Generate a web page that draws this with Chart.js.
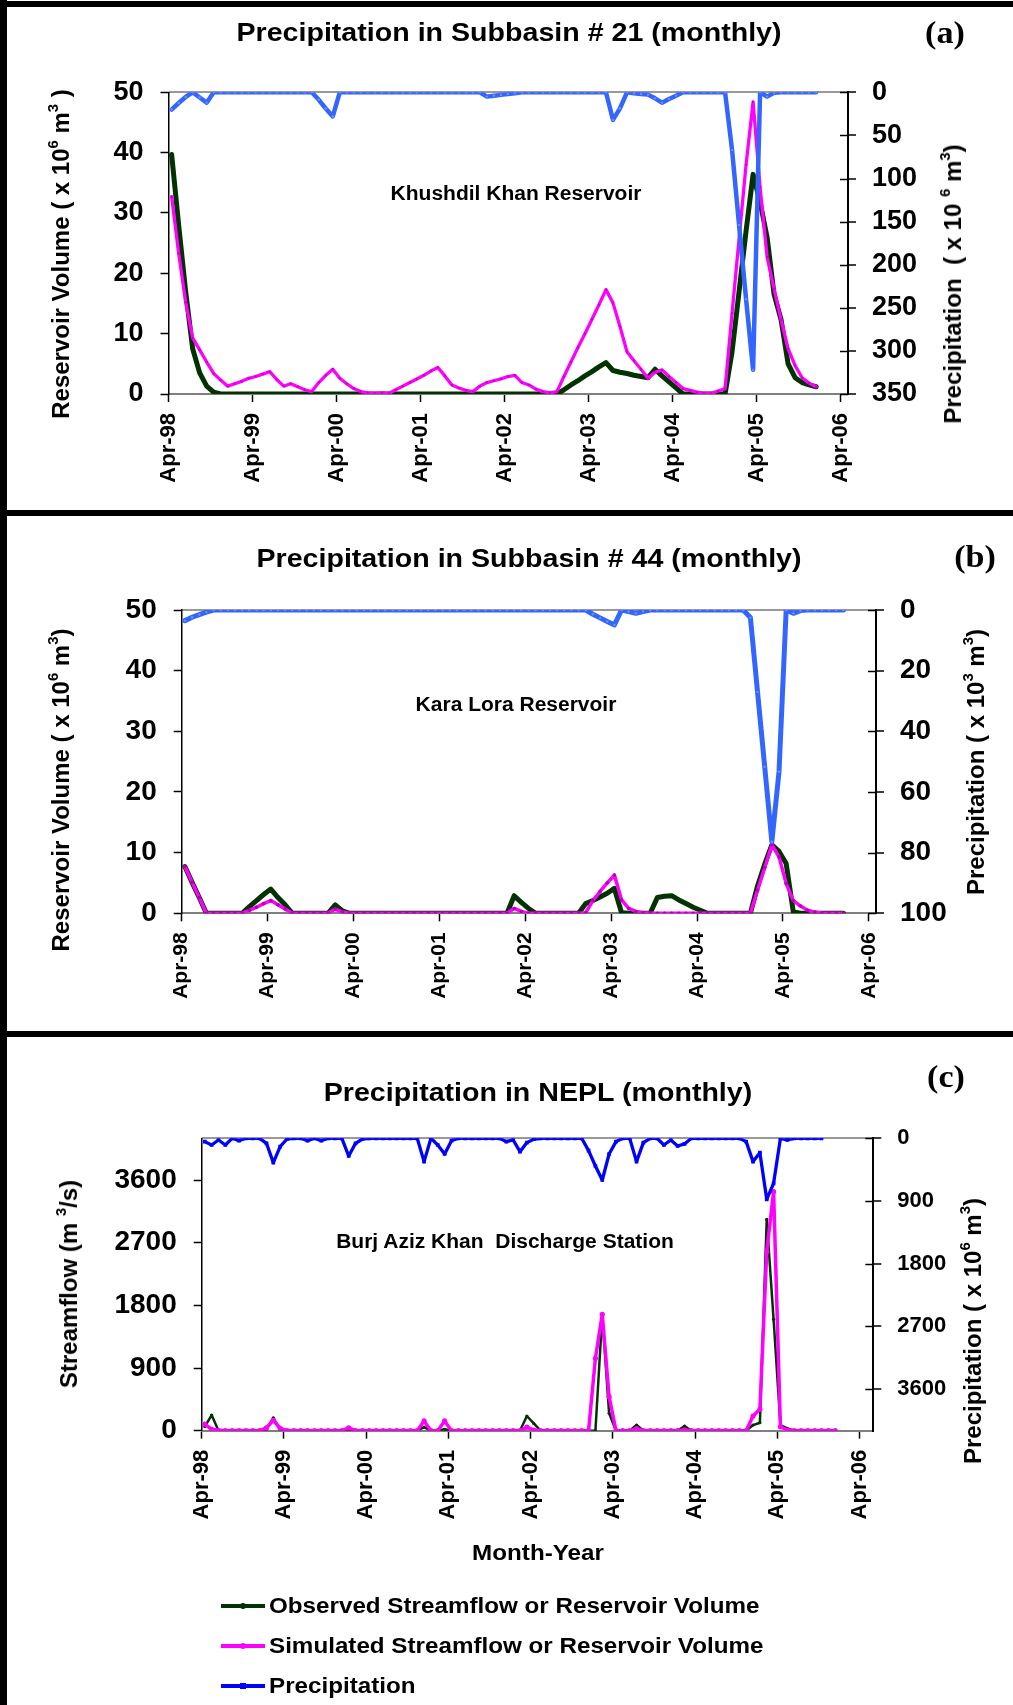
<!DOCTYPE html>
<html lang="en">
<head>
<meta charset="UTF-8">
<title>Precipitation, reservoir volume and streamflow (monthly)</title>
<script src="https://cdn.jsdelivr.net/npm/chart.js"></script>
<style>
  html, body { margin: 0; padding: 0; background: #fff; }
  body { position: relative; width: 1013px; height: 1705px; overflow: hidden;
         font-family: "Liberation Sans", Arial, sans-serif; font-weight: bold; color: #000; }
  canvas { position: absolute; left: 0; }
  .rule { position: absolute; background: #000; z-index: 2; }
  .txt { position: absolute; white-space: pre; transform: translate(-50%, -50%) scaleX(1.1); }
  .title { font-size: 26px; }
  .tag { font-family: "Liberation Serif", "Times New Roman", serif; font-size: 31px; }
  .note { font-size: 20px; transform: translate(-50%, -50%) scaleX(1.05); }
  .axt { position: absolute; white-space: pre; font-size: 24px; transform: translate(-50%, -50%) rotate(-90deg); }
  sup { font-size: 62%; line-height: 0; vertical-align: 0.75em; }
  .leg { position: absolute; left: 221px; height: 26px; width: 600px; transform: translateY(-50%); }
  .leg .sw { position: absolute; left: 0; top: 11px; width: 44px; height: 4px; }
  .leg .mk { position: absolute; left: 19px; top: -1px; width: 6px; height: 6px; border-radius: 50%; }
  .leg span { position: absolute; left: 48px; top: 0; font-size: 22px; line-height: 26px; white-space: pre;
              transform: scaleX(1.1); transform-origin: left center; }
</style>
</head>
<body>

<div class="rule" style="left:0;top:0;width:7px;height:1705px"></div>
<div class="rule" style="left:0;top:1px;width:1013px;height:6px"></div>
<div class="rule" style="left:0;top:510px;width:1013px;height:6px"></div>
<div class="rule" style="left:0;top:1031px;width:1013px;height:6px"></div>

<canvas id="chartA" width="1013" height="510" style="top:0"></canvas>
<canvas id="chartB" width="1013" height="515" style="top:516px"></canvas>
<canvas id="chartC" width="1013" height="668" style="top:1037px"></canvas>

<div class="txt title" style="left:509px;top:32px">Precipitation in Subbasin # 21 (monthly)</div>
<div class="txt tag" style="left:945px;top:33px">(a)</div>
<div class="txt note" style="left:516px;top:193px">Khushdil Khan Reservoir</div>
<div class="axt" style="left:61px;top:254px">Reservoir Volume ( x 10<sup>6</sup> m<sup>3</sup> )</div>
<div class="axt" style="left:953px;top:284px">Precipitation  ( x 10 <sup>6</sup> m<sup>3</sup>)</div>

<div class="txt title" style="left:529px;top:558px">Precipitation in Subbasin # 44 (monthly)</div>
<div class="txt tag" style="left:975px;top:557px">(b)</div>
<div class="txt note" style="left:516px;top:704px">Kara Lora Reservoir</div>
<div class="axt" style="left:61px;top:790px">Reservoir Volume ( x 10<sup>6</sup> m<sup>3</sup>)</div>
<div class="axt" style="left:976px;top:762px">Precipitation ( x 10<sup>3</sup> m<sup>3</sup>)</div>

<div class="txt title" style="left:538px;top:1092px">Precipitation in NEPL (monthly)</div>
<div class="txt tag" style="left:946px;top:1077px">(c)</div>
<div class="txt note" style="left:505px;top:1241px">Burj Aziz Khan  Discharge Station</div>
<div class="axt" style="left:69px;top:1284px">Streamflow (m <sup>3</sup>/s)</div>
<div class="axt" style="left:973px;top:1331px">Precipitation ( x 10<sup>6</sup> m<sup>3</sup>)</div>
<div class="txt" style="left:538px;top:1553px;font-size:22px">Month-Year</div>

<div class="leg" style="top:1606px"><i class="sw" style="background:#003300"><i class="mk" style="background:#003300"></i></i><span>Observed Streamflow or Reservoir Volume</span></div>
<div class="leg" style="top:1646px"><i class="sw" style="background:#ff00ff"><i class="mk" style="background:#ff00ff"></i></i><span>Simulated Streamflow or Reservoir Volume</span></div>
<div class="leg" style="top:1686px"><i class="sw" style="background:#0000ff"><i class="mk" style="background:#0000ff;border-radius:0"></i></i><span>Precipitation</span></div>

<script>
// months counted from Apr-98 (index 0); one row per Apr..Mar year
const tickMonths = [0, 12, 24, 36, 48, 60, 72, 84, 96];
const tickLabels = ['Apr-98', 'Apr-99', 'Apr-00', 'Apr-01', 'Apr-02', 'Apr-03', 'Apr-04', 'Apr-05', 'Apr-06'];

// (a) Khushdil Khan Reservoir, volume x10^6 m3 ; precipitation x10^6 m3
const obsA = [
  39.7, 28, 17, 7.5, 3.5, 1.3, 0.3, 0, 0, 0, 0, 0,
  0, 0, 0, 0, 0, 0, 0, 0, 0, 0, 0, 0,
  0, 0, 0, 0, 0, 0, 0, 0, 0, 0, 0, 0,
  0, 0, 0, 0, 0, 0, 0, 0, 0, 0, 0, 0,
  0, 0, 0, 0, 0, 0, 0, 0, 0.7, 1.5, 2.2, 3.0,
  3.7, 4.5, 5.2, 3.9, 3.6, 3.4, 3.1, 2.9, 2.7, 4.1, 3.0, 2.0,
  1.0, 0, 0, 0, 0, 0, 0, 0, 7, 17, 27, 36.4,
  31.8, 26, 16.5, 12.3, 5, 2.7, 1.9, 1.5, 1.2
];
const simA = [
  32.7, 23.3, 15.2, 9.3, 7.3, 5.3, 3.4, 2.3, 1.3, 1.7, 2.1, 2.6,
  2.9, 3.3, 3.7, 2.4, 1.3, 1.7, 1.2, 0.7, 0.4, 1.9, 3.1, 4.1,
  2.6, 1.7, 0.9, 0.4, 0.2, 0.1, 0.2, 0.1, 0.7, 1.3, 1.9, 2.5,
  3.1, 3.8, 4.4, 3.0, 1.5, 1.0, 0.6, 0.4, 1.3, 1.9, 2.2, 2.5,
  2.9, 3.1, 1.9, 1.5, 0.8, 0.4, 0.2, 0.4, 2.9, 5.3, 7.7, 10.0,
  12.4, 14.8, 17.3, 15.1, 11.2, 7.0, 5.5, 4.1, 2.6, 3.6, 4.0, 2.9,
  1.9, 0.9, 0.6, 0.3, 0.1, 0.1, 0.5, 0.9, 13.4, 25.7, 38, 48.4,
  34.3, 22.7, 17.4, 12.3, 7.5, 4.7, 2.7, 1.8, 1.2
];
const precA = [
  20, 12.4, 5.4, 0, 6, 12, 0, 0, 0, 0, 0, 0,
  0, 0, 0, 0, 0, 0, 0, 0, 0, 8.7, 18.8, 28,
  0, 0, 0, 0, 0, 0, 0, 0, 0, 0, 0, 0,
  0, 0, 0, 0, 0, 0, 0, 0, 0, 5, 4, 3,
  2, 1, 0, 0, 0, 0, 0, 0, 0, 0, 0, 0,
  0, 0, 0, 32, 18.6, 0, 1, 2, 2.7, 7, 12, 7.8,
  3.9, 0, 0, 0, 0, 0, 0, 0, 67, 154, 240, 322,
  0, 5, 0.5, 0, 0, 0, 0, 0, 0
];

// (b) Kara Lora Reservoir, volume x10^6 m3 ; precipitation x10^3 m3
const obsB = [
  7.7, 5.1, 2.6, 0, 0, 0, 0, 0, 0, 1.1, 2.1, 3.1,
  4.0, 2.6, 1.4, 0, 0, 0, 0, 0, 0, 1.4, 0.4, 0,
  0, 0, 0, 0, 0, 0, 0, 0, 0, 0, 0, 0,
  0, 0, 0, 0, 0, 0, 0, 0, 0, 0, 2.9, 1.8,
  0.8, 0, 0, 0, 0, 0, 0, 0, 1.6, 2.1, 2.7, 3.3,
  4.1, 0.1, 0, 0, 0, 0, 2.6, 2.8, 2.9, 2.2, 1.6, 1.0,
  0.5, 0, 0, 0, 0, 0, 0, 0, 4.5, 8.1, 11.3, 10.2,
  8.2, 0.2, 0, 0, 0, 0, 0, 0, 0
];
const simB = [
  7.7, 5.1, 2.6, 0, 0, 0, 0, 0, 0, 0.5, 1.0, 1.6,
  2.1, 1.4, 0.7, 0, 0, 0, 0, 0, 0, 0.7, 0.2, 0,
  0, 0, 0, 0, 0, 0, 0, 0, 0, 0, 0, 0,
  0, 0, 0, 0, 0, 0, 0, 0, 0, 0, 0.8, 0.3,
  0, 0, 0, 0, 0, 0, 0, 0, 0.1, 2.1, 3.6, 5.0,
  6.3, 2.2, 0.8, 0.3, 0.1, 0, 0, 0, 0, 0, 0, 0,
  0, 0, 0, 0, 0, 0, 0, 0, 3.8, 7.5, 11.3, 9.3,
  4.9, 2.1, 1.2, 0.5, 0.2, 0, 0, 0, 0
];
const precB = [
  3.5, 2.4, 1.5, 0.7, 0, 0, 0, 0, 0, 0, 0, 0,
  0, 0, 0, 0, 0, 0, 0, 0, 0, 0, 0, 0,
  0, 0, 0, 0, 0, 0, 0, 0, 0, 0, 0, 0,
  0, 0, 0, 0, 0, 0, 0, 0, 0, 0, 0, 0,
  0, 0, 0, 0, 0, 0, 0, 0, 0, 1.4, 2.6, 3.8,
  4.9, 0, 0.5, 1.1, 0.5, 0, 0, 0, 0, 0, 0, 0,
  0, 0, 0, 0, 0, 0, 0, 2.5, 27, 51.7, 76.4, 53.3,
  0, 1.1, 0.2, 0, 0, 0, 0, 0, 0
];

// (c) Burj Aziz Khan discharge station, streamflow m3/s ; precipitation x10^6 m3
const obsC = [
  60, 225, 0, 0, 0, 0, 0, 0, 0, 20, 185, 15,
  0, 0, 0, 0, 0, 0, 0, 0, 0, 0, 0, 0,
  0, 0, 0, 0, 0, 0, 0, 0, 50, 0, 0, 20,
  0, 0, 0, 0, 0, 0, 0, 0, 0, 0, 0, 211,
  105, 0, 0, 0, 0, 0, 0, 0, 0, 0, 1662, 250,
  0, 0, 0, 81, 0, 0, 0, 0, 0, 0, 67, 0,
  0, 0, 0, 0, 0, 0, 0, 0, 81, 115, 3037, 1600,
  81, 33, 0, 0, 0, 0, 0, 0, 0
];
const simC = [
  96, 20, 5, 0, 0, 0, 0, 0, 0, 40, 150, 34,
  0, 0, 0, 0, 0, 0, 0, 0, 0, 40, 0, 0,
  0, 0, 0, 0, 0, 0, 0, 0, 140, 0, 0, 140,
  0, 0, 0, 0, 0, 0, 0, 0, 0, 0, 0, 50,
  10, 0, 0, 0, 0, 0, 0, 0, 0, 1040, 1672, 489,
  0, 0, 0, 30, 0, 0, 0, 0, 0, 0, 10, 0,
  0, 0, 0, 0, 0, 0, 0, 0, 211, 307, 2572, 3434,
  57, 10, 0, 0, 0, 0, 0, 0, 0
];
const precC = [
  48, 96, 24, 96, 0, 34, 0, 0, 0, 72, 350, 120,
  10, 0, 0, 34, 0, 34, 0, 0, 0, 254, 72, 10,
  0, 0, 0, 0, 0, 0, 0, 0, 335, 0, 96, 225,
  34, 0, 0, 0, 0, 0, 0, 0, 48, 24, 192, 62,
  14, 0, 0, 0, 0, 0, 0, 0, 177, 398, 599, 225,
  48, 0, 0, 335, 62, 0, 0, 96, 24, 110, 81, 0,
  0, 0, 0, 0, 0, 0, 0, 48, 335, 206, 877, 647,
  0, 24, 0, 0, 0, 0, 0
];

const GREEN = '#003300';
const PINK = '#ff00ff';
const FONT = '"Liberation Sans", Arial, sans-serif';

// monthly values sit mid-month on the date axis
const pts = arr => arr.map((v, i) => ({ x: i + 0.45, y: v }));

const crossTicks = {
  id: 'crossTicks',
  afterDraw(chart) {
    const s = chart.scales.y2, ctx = chart.ctx;
    ctx.save();
    ctx.strokeStyle = '#000';
    ctx.lineWidth = 1.5;
    s.ticks.forEach(t => {
      const y = Math.round(s.getPixelForValue(t.value)) + 0.5;
      ctx.beginPath();
      ctx.moveTo(s.left - 8, y);
      ctx.lineTo(s.left, y);
      ctx.stroke();
    });
    ctx.restore();
  }
};

function panel(id, p) {
  const sets = p.series.map(s => ({
    data: pts(s.values),
    borderColor: s.color,
    backgroundColor: s.color,
    borderWidth: s.width,
    pointRadius: s.dot,
    pointStyle: s.shape || 'circle',
    pointBackgroundColor: s.dotColor || s.color,
    pointBorderWidth: 0,
    borderJoinStyle: 'round',
    borderCapStyle: 'round',
    yAxisID: s.axis,
    order: s.order,
    tension: 0
  }));
  return new Chart(document.getElementById(id), {
    type: 'line',
    data: { datasets: sets },
    plugins: [crossTicks],
    options: {
      responsive: false,
      animation: false,
      events: [],
      layout: { padding: { top: p.top, left: 0, right: 0, bottom: 0 } },
      plugins: { legend: { display: false }, tooltip: { enabled: false } },
      scales: {
        x: {
          type: 'linear', min: 0, max: p.xMax,
          afterBuildTicks: s => { s.ticks = tickMonths.map(v => ({ value: v })); },
          afterFit: s => { s.height = p.xHeight; },
          ticks: {
            autoSkip: false, minRotation: 90, maxRotation: 90, padding: 11, color: '#000',
            font: { family: FONT, size: p.xFont, weight: 'bold' },
            callback: v => tickLabels[tickMonths.indexOf(v)]
          },
          grid: { drawOnChartArea: false, tickLength: 8, tickColor: '#000', tickWidth: 1.5 },
          border: { color: '#7f7f7f', width: 2 }
        },
        y: {
          position: 'left', min: 0, max: p.yMax,
          afterBuildTicks: s => { s.ticks = p.yTicks.map(v => ({ value: v })); },
          afterFit: s => { s.width = p.left; },
          ticks: {
            padding: 17, color: '#000',
            font: { family: FONT, size: p.yFont, weight: 'bold' },
            callback: v => String(v)
          },
          grid: { drawOnChartArea: false, tickLength: 8, tickColor: '#000', tickWidth: 1.5 },
          border: { color: '#000', width: 1.5 }
        },
        y2: {
          position: 'right', reverse: true, min: 0, max: p.pMax,
          afterBuildTicks: s => { s.ticks = p.pTicks.map(v => ({ value: v })); },
          afterFit: s => { s.width = p.right; },
          ticks: {
            padding: 16, color: '#000',
            font: { family: FONT, size: p.pFont, weight: 'bold' },
            callback: v => String(v)
          },
          grid: {
            drawOnChartArea: true,
            color: c => (c.tick && c.tick.value === 0 ? '#999999' : 'rgba(0,0,0,0)'),
            lineWidth: 2, tickLength: 8, tickColor: '#000', tickWidth: 1.5
          },
          border: { color: '#000', width: 2 }
        }
      }
    }
  });
}

panel('chartA', {
  top: 92.3, left: 168.5, right: 1013 - 848, xHeight: 510 - 394, xMax: 97,
  yMax: 50, yTicks: [0, 10, 20, 30, 40, 50], pMax: 350, pTicks: [0, 50, 100, 150, 200, 250, 300, 350],
  xFont: 22, yFont: 27, pFont: 27,
  series: [
    { values: obsA, color: GREEN, width: 5, dot: 0, axis: 'y', order: 2 },
    { values: simA, color: PINK, width: 3.3, dot: 1.2, dotColor: '#cc00cc', axis: 'y', order: 1 },
    { values: precA, color: '#3366ff', width: 4.5, dot: 1.2, dotColor: '#6f92ff', axis: 'y2', order: 0 }
  ]
});

panel('chartB', {
  top: 610 - 516, left: 181.7, right: 1013 - 876, xHeight: 516 + 515 - 913.3, xMax: 97,
  yMax: 50, yTicks: [0, 10, 20, 30, 40, 50], pMax: 100, pTicks: [0, 20, 40, 60, 80, 100],
  xFont: 21, yFont: 28, pFont: 28,
  series: [
    { values: obsB, color: GREEN, width: 5, dot: 0, axis: 'y', order: 2 },
    { values: simB, color: PINK, width: 3.5, dot: 1.8, dotColor: '#b000b0', axis: 'y', order: 1 },
    { values: precB, color: '#3366ff', width: 5, dot: 1.2, dotColor: '#6f92ff', axis: 'y2', order: 0 }
  ]
});

panel('chartC', {
  top: 1138.3 - 1037, left: 201.7, right: 1013 - 873.3, xHeight: 1037 + 668 - 1430.7, xMax: 98,
  yMax: 4200, yTicks: [0, 900, 1800, 2700, 3600], pMax: 4200, pTicks: [0, 900, 1800, 2700, 3600],
  xFont: 22, yFont: 28, pFont: 22,
  series: [
    { values: obsC, color: GREEN, width: 2.5, dot: 1.6, axis: 'y', order: 2 },
    { values: simC, color: PINK, width: 3.5, dot: 2.6, axis: 'y', order: 1 },
    { values: precC, color: '#0000ff', width: 3.3, dot: 2.6, shape: 'rect', axis: 'y2', order: 0 }
  ]
});
</script>
</body>
</html>
